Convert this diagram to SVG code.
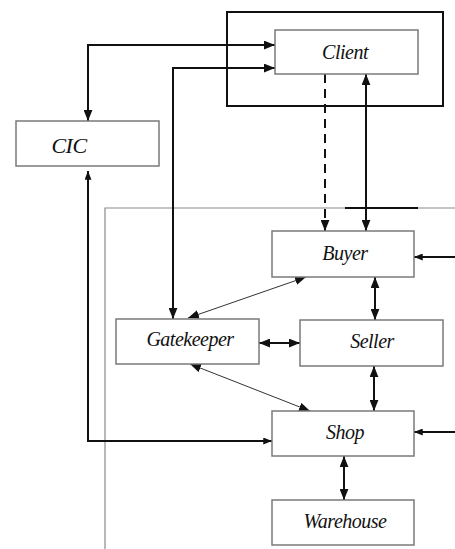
<svg xmlns="http://www.w3.org/2000/svg" width="455" height="549" viewBox="0 0 455 549">
<style>
.box{fill:#fff;stroke:#7a7a7a;stroke-width:1.5}
.lbl{font-family:"Liberation Serif",serif;font-style:italic;font-size:20px;fill:#111;text-anchor:middle;letter-spacing:-0.5px}
.c{fill:none;stroke:#111;stroke-width:2}
.t{fill:none;stroke:#333;stroke-width:1}
</style>
<defs>
<marker id="a" viewBox="0 0 10 8" refX="10" refY="4" markerWidth="11" markerHeight="9" markerUnits="userSpaceOnUse" orient="auto-start-reverse"><path d="M0,0L10,4L0,8z" fill="#111"/></marker>
<marker id="s" viewBox="0 0 10 8" refX="10" refY="4" markerWidth="9" markerHeight="7" markerUnits="userSpaceOnUse" orient="auto-start-reverse"><path d="M0,0L10,4L0,8z" fill="#111"/></marker>
</defs>
<g id="container">
<path d="M105,549V208H455" fill="none" stroke="#8a8a8a" stroke-width="1.2"/>
<path d="M345,208H418" stroke="#111" stroke-width="2"/>
<rect x="227" y="12" width="216" height="94" fill="none" stroke="#111" stroke-width="2"/>
</g>
<g id="connectors">
<path class="c" d="M88,121V45H275" marker-start="url(#a)" marker-end="url(#a)"/>
<path class="c" d="M173,319V68H275" marker-start="url(#a)" marker-end="url(#a)"/>
<path class="c" d="M325,74V231" stroke-dasharray="9,6" marker-end="url(#a)"/>
<path class="c" d="M366,74V231" marker-start="url(#a)" marker-end="url(#a)"/>
<path class="c" d="M455,257H414" marker-end="url(#s)"/>
<path class="c" d="M455,432H414" marker-end="url(#s)"/>
<path class="c" d="M375,277V320" stroke-width="1.5" marker-start="url(#a)" marker-end="url(#a)"/>
<path class="c" d="M259,343H300" stroke-width="1.5" marker-start="url(#a)" marker-end="url(#a)"/>
<path class="t" d="M306,277L188,318" marker-start="url(#a)" marker-end="url(#a)"/>
<path class="t" d="M190,364L310,411" marker-start="url(#a)" marker-end="url(#a)"/>
<path class="c" d="M374,366V411" marker-start="url(#a)" marker-end="url(#a)"/>
<path class="c" d="M88,171V441H272" marker-start="url(#s)" marker-end="url(#s)"/>
<path class="c" d="M344,456V500" marker-start="url(#a)" marker-end="url(#a)"/>
</g>
<g id="client"><rect class="box" x="275" y="30" width="143" height="44"/><text class="lbl" x="345" y="59">Client</text></g>
<g id="cic"><rect class="box" x="16" y="121" width="143" height="45"/><text class="lbl" x="69" y="153" style="font-size:22px">CIC</text></g>
<g id="buyer"><rect class="box" x="272" y="231" width="142" height="46"/><text class="lbl" x="345" y="260">Buyer</text></g>
<g id="gatekeeper"><rect class="box" x="116" y="319" width="143" height="45"/><text class="lbl" x="190" y="346">Gatekeeper</text></g>
<g id="seller"><rect class="box" x="300" y="320" width="143" height="46"/><text class="lbl" x="372" y="348">Seller</text></g>
<g id="shop"><rect class="box" x="272" y="411" width="142" height="45"/><text class="lbl" x="345" y="439">Shop</text></g>
<g id="warehouse"><rect class="box" x="272" y="500" width="142" height="45"/><text class="lbl" x="345" y="528">Warehouse</text></g>
</svg>
